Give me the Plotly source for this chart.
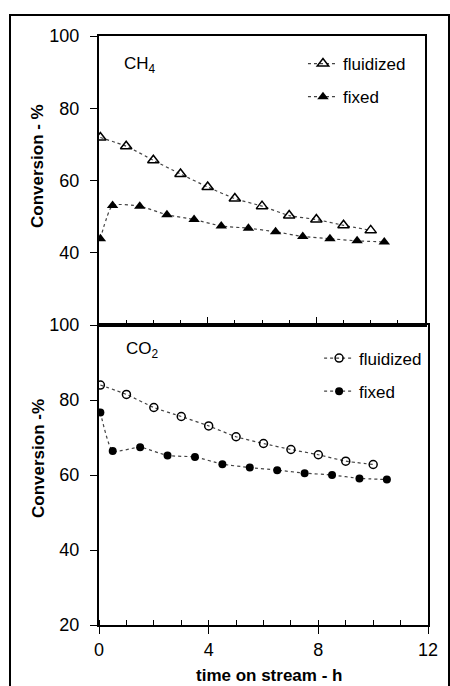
import plotly.graph_objects as go

# ---- data ----
t_fluid_ch4 = [0.05, 1.0, 2.0, 3.0, 4.0, 5.0, 6.0, 7.0, 8.0, 9.0, 10.0]
ch4_fluid = [71.9, 69.5, 65.6, 61.8, 58.2, 55.0, 52.9, 50.3, 49.2, 47.6, 46.2]
t_fixed_ch4 = [0.05, 0.5, 1.5, 2.5, 3.5, 4.5, 5.5, 6.5, 7.5, 8.5, 9.5, 10.5]
ch4_fixed = [43.9, 53.1, 52.9, 50.5, 49.2, 47.4, 46.8, 45.8, 44.5, 43.9, 43.3, 43.0]

t_fluid_co2 = [0.05, 1.0, 2.0, 3.0, 4.0, 5.0, 6.0, 7.0, 8.0, 9.0, 10.0]
co2_fluid = [84.0, 81.5, 78.0, 75.6, 73.1, 70.2, 68.4, 66.8, 65.4, 63.7, 62.8]
t_fixed_co2 = [0.05, 0.5, 1.5, 2.5, 3.5, 4.5, 5.5, 6.5, 7.5, 8.5, 9.5, 10.5]
co2_fixed = [76.7, 66.4, 67.4, 65.2, 64.8, 62.9, 62.0, 61.3, 60.5, 60.0, 59.1, 58.8]

x_ticks = [0, 4, 8, 12]
y_ticks_top = [40, 60, 80, 100]
y_ticks_bottom = [20, 40, 60, 80, 100]

FONT = "Liberation Sans"
FS = 17
LINE = dict(color="#444444", width=1.2, dash="dot")

fig = go.Figure()

# top panel (CH4)
fig.add_trace(go.Scatter(x=t_fluid_ch4, y=ch4_fluid, name="fluidized", mode="lines+markers",
                         line=dict(**LINE, shape="spline", smoothing=0.5),
                         marker=dict(symbol="triangle-up-open", size=10, color="black", line=dict(width=1.5)),
                         xaxis="x", yaxis="y", legend="legend", legendgroup="a"))
fig.add_trace(go.Scatter(x=t_fixed_ch4, y=ch4_fixed, name="fixed", mode="lines+markers",
                         line=dict(**LINE, shape="spline", smoothing=0.5),
                         marker=dict(symbol="triangle-up", size=10, color="black"),
                         xaxis="x", yaxis="y", legend="legend", legendgroup="b"))
# bottom panel (CO2)
fig.add_trace(go.Scatter(x=t_fluid_co2, y=co2_fluid, name="fluidized", mode="lines+markers",
                         line=dict(**LINE, shape="spline", smoothing=0.5),
                         marker=dict(symbol="circle-open", size=8, color="black", line=dict(width=1.5)),
                         xaxis="x2", yaxis="y2", legend="legend2", legendgroup="c"))
fig.add_trace(go.Scatter(x=t_fixed_co2, y=co2_fixed, name="fixed", mode="lines+markers",
                         line=dict(**LINE, shape="spline", smoothing=0.5),
                         marker=dict(symbol="circle", size=8, color="black"),
                         xaxis="x2", yaxis="y2", legend="legend2", legendgroup="d"))

axis_common = dict(showgrid=False, zeroline=False, showline=True, linecolor="black", linewidth=2,
                   mirror=True, tickcolor="black", tickfont=dict(family=FONT, size=18, color="black"))

split = 0.5093
fig.update_layout(
    width=450, height=686,
    margin=dict(l=99, r=22, t=36, b=61),
    paper_bgcolor="white", plot_bgcolor="white",
    font=dict(family=FONT, color="black"),
    xaxis=dict(**axis_common, domain=[0, 0.991], range=[0, 12], anchor="y",
               tickvals=x_ticks, showticklabels=False, ticks="inside", ticklen=8, tickwidth=1,
               minor=dict(dtick=1, tick0=0, ticks="inside", ticklen=5, tickcolor="black")),
    yaxis=dict(**axis_common, domain=[split, 1], range=[20, 100], anchor="x",
               tickvals=y_ticks_top, ticks="outside", ticklen=7, tickwidth=1, ticklabelstandoff=7),
    xaxis2=dict(**axis_common, domain=[0, 1], range=[0, 12], anchor="y2",
                tickvals=x_ticks, ticks="outside", ticklen=7, tickwidth=1,
                minor=dict(dtick=1, tick0=0, ticks="inside", ticklen=5, tickcolor="black")),
    yaxis2=dict(**axis_common, domain=[0, split], range=[20, 100], anchor="x2",
                tickvals=y_ticks_bottom, ticks="outside", ticklen=7, tickwidth=1, ticklabelstandoff=7),
    legend=dict(x=0.62, y=0.983, xanchor="left", yanchor="top", bgcolor="rgba(0,0,0,0)",
                font=dict(family=FONT, size=FS), itemwidth=30, tracegroupgap=8),
    legend2=dict(x=0.669, y=0.483, xanchor="left", yanchor="top", bgcolor="rgba(0,0,0,0)",
                 font=dict(family=FONT, size=FS), itemwidth=30, tracegroupgap=8),
    showlegend=True,
)

fig.add_annotation(text="CH<sub>4</sub>", xref="paper", yref="paper", x=(122 - 99) / 329, y=(625 - 65) / 589,
                   xanchor="left", yanchor="middle", showarrow=False, font=dict(family=FONT, size=FS))
fig.add_annotation(text="CO<sub>2</sub>", xref="paper", yref="paper", x=(124 - 99) / 329, y=(625 - 350) / 589,
                   xanchor="left", yanchor="middle", showarrow=False, font=dict(family=FONT, size=FS))
fig.add_annotation(text="<b>Conversion - %</b>", xref="paper", yref="paper", x=(38 - 99) / 329,
                   y=(625 - 166) / 589, xanchor="center", yanchor="middle", textangle=-90,
                   showarrow=False, font=dict(family=FONT, size=FS))
fig.add_annotation(text="<b>Conversion -%</b>", xref="paper", yref="paper", x=(38 - 99) / 329,
                   y=(625 - 459) / 589, xanchor="center", yanchor="middle", textangle=-90,
                   showarrow=False, font=dict(family=FONT, size=FS))
fig.add_annotation(text="<b>time on stream - h</b>", xref="paper", yref="paper", x=(269 - 99) / 329,
                   y=(625 - 675) / 589, xanchor="center", yanchor="middle",
                   showarrow=False, font=dict(family=FONT, size=FS))

# outer frame
fig.add_shape(type="rect", xref="paper", yref="paper", x0=(10 - 99) / 329, x1=(449 - 99) / 329,
              y0=-0.3, y1=(625 - 15) / 589, line=dict(color="black", width=2), layer="below")

fig.write_html("out.html")
